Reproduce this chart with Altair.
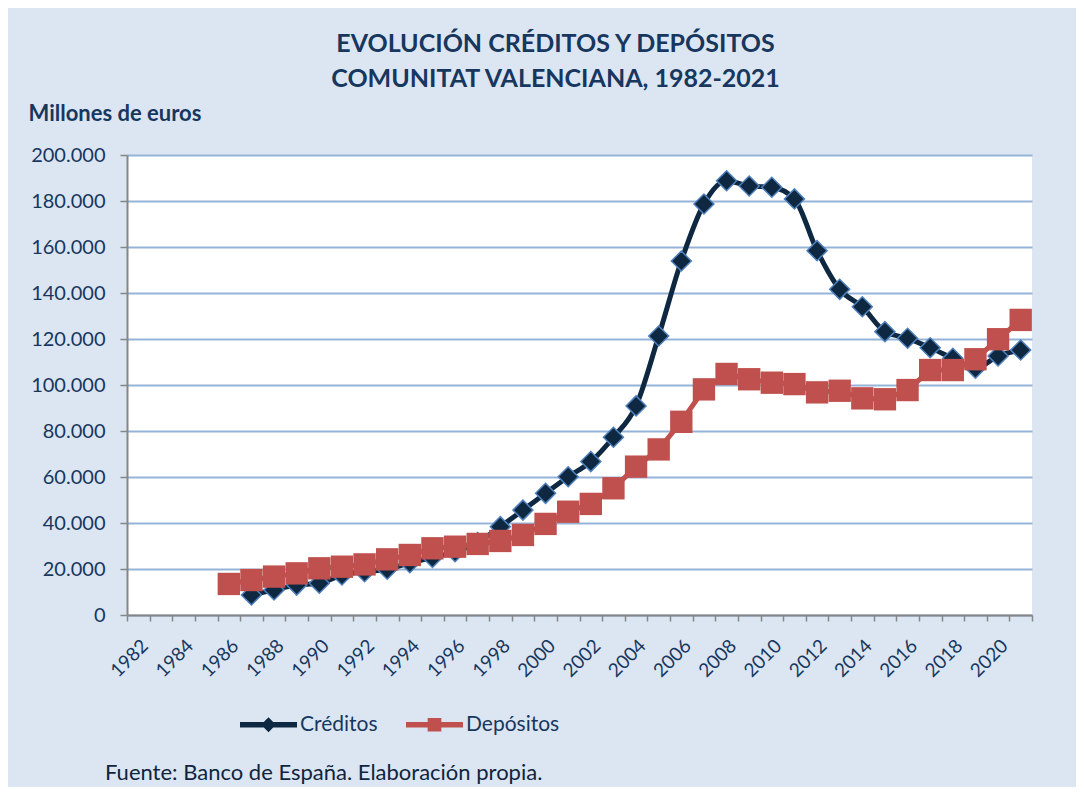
import altair as alt
import pandas as pd

years = [str(y) for y in range(1982, 2022)]
creditos = [None] * 5 + [
    8700, 10900, 13000, 13800, 17400,
    18800, 19900, 22700, 25000, 27500,
    31500, 38400, 45600, 52900, 60100,
    66700, 77300, 90900, 121300, 153900,
    178700, 188800, 186500, 186000, 180900,
    158400, 141600, 134000, 123200, 120300,
    116200, 111600, 107300, 112600, 115200,
]
depositos = [None] * 4 + [
    13500, 15200, 16700, 18100, 20300,
    21000, 22000, 24200, 26100, 29000,
    29700, 30900, 32200, 34800, 39600,
    44900, 48300, 55100, 64500, 72000,
    84000, 98100, 104800, 102500, 101000,
    100400, 96800, 97500, 94200, 93800,
    97800, 106500, 106500, 111200, 119900,
    128300,
]
series = ["Créditos", "Depósitos"]
colors = ["#0E2841", "#C0504D"]
title_lines = ["EVOLUCIÓN CRÉDITOS Y DEPÓSITOS", "COMUNITAT VALENCIANA, 1982-2021"]
y_title = "Millones de euros"
source_note = "Fuente: Banco de España. Elaboración propia."

rows = []
for i, yr in enumerate(years):
    if creditos[i] is not None:
        rows.append({"year": yr, "serie": series[0], "value": creditos[i]})
    if depositos[i] is not None:
        rows.append({"year": yr, "serie": series[1], "value": depositos[i]})
df = pd.DataFrame(rows)

FONT = "Lato"
NAVY = "#17375E"
GRID = "#95B3D7"
AXIS = "#868686"

legend_shapes = [
    "M-1,-0.1L1,-0.1L1,0.1L-1,0.1Z M0,-0.26L0.26,0L0,0.26L-0.26,0Z",
    "M-1,-0.1L1,-0.1L1,0.1L-1,0.1Z M-0.24,-0.24L0.24,-0.24L0.24,0.24L-0.24,0.24Z",
]

legend = alt.Legend(
    title=None, orient="none", legendX=113, legendY=541, direction="horizontal",
    symbolSize=3249, symbolOpacity=1, symbolStrokeWidth=0,
    labelFontSize=21, labelFont=FONT, labelColor=NAVY,
    labelOffset=3, columnPadding=28,
)

x = alt.X("year:O", scale=alt.Scale(domain=years, paddingInner=0, paddingOuter=0),
          axis=alt.Axis(title=None, labelAngle=-45, tickBand="extent", grid=False,
                        labelExpr="parseInt(datum.value) % 2 == 0 ? datum.value : ''",
                        labelFontSize=19, labelFont=FONT, labelColor=NAVY,
                        domainColor=AXIS, domainWidth=2, tickColor=AXIS, tickSize=6,
                        tickWidth=1.5, labelPadding=15))
y = alt.Y("value:Q", scale=alt.Scale(domain=[0, 200000], nice=False),
          axis=alt.Axis(title=y_title, titleAngle=0, titleAlign="left", titleBaseline="middle",
                        titleX=-99, titleY=-42, titleFontSize=22, titleFont=FONT,
                        titleColor=NAVY, titleFontWeight="bold",
                        values=list(range(0, 200001, 20000)),
                        labelExpr="replace(format(datum.value, ',d'), ',', '.')",
                        labelFontSize=20, labelFont=FONT, labelColor=NAVY, labelPadding=15,
                        gridColor=GRID, gridWidth=2, domainColor=AXIS, domainWidth=2,
                        tickColor=AXIS, tickSize=7, tickWidth=1.5))

base = alt.Chart(df).encode(x=x, y=y)

cred = base.transform_filter(alt.datum.serie == series[0])
dep = base.transform_filter(alt.datum.serie == series[1])

cred_line = cred.mark_line(strokeWidth=5, interpolate="monotone", color=colors[0])
cred_pts = cred.mark_point(shape="diamond", filled=True, size=400, fill=colors[0],
                           stroke="#4F81BD", strokeWidth=1.5, opacity=1)
dep_line = dep.mark_line(strokeWidth=5, color=colors[1])
dep_pts = dep.mark_point(shape="square", filled=True, size=500, opacity=1, color=colors[1])

legend_layer = base.mark_point(filled=True, opacity=0, size=1).encode(
    color=alt.Color("serie:N", scale=alt.Scale(domain=series, range=colors), legend=legend),
    shape=alt.Shape("serie:N", scale=alt.Scale(domain=series, range=legend_shapes), legend=legend),
)

note = alt.Chart(alt.Data(values=[{"t": source_note}])).mark_text(
    align="left", baseline="middle", fontSize=22, font=FONT, color="#0F243E"
).encode(text="t:N", x=alt.value(-22), y=alt.value(618))

chart = alt.layer(cred_line, cred_pts, dep_line, dep_pts, legend_layer, note).properties(
    width=905, height=460,
    title=alt.TitleParams(title_lines, fontSize=25, font=FONT, color=NAVY, fontWeight="bold",
                          anchor="middle", dx=-24, offset=10, lineHeight=35),
    background="#DCE6F2",
    autosize=alt.AutoSizeParams(type="none"),
    padding={"left": 119, "top": 147, "right": 44, "bottom": 172},
).configure_view(fill="white", stroke=None)

chart.save("out.html", embed_options={"renderer": "svg", "actions": False})
